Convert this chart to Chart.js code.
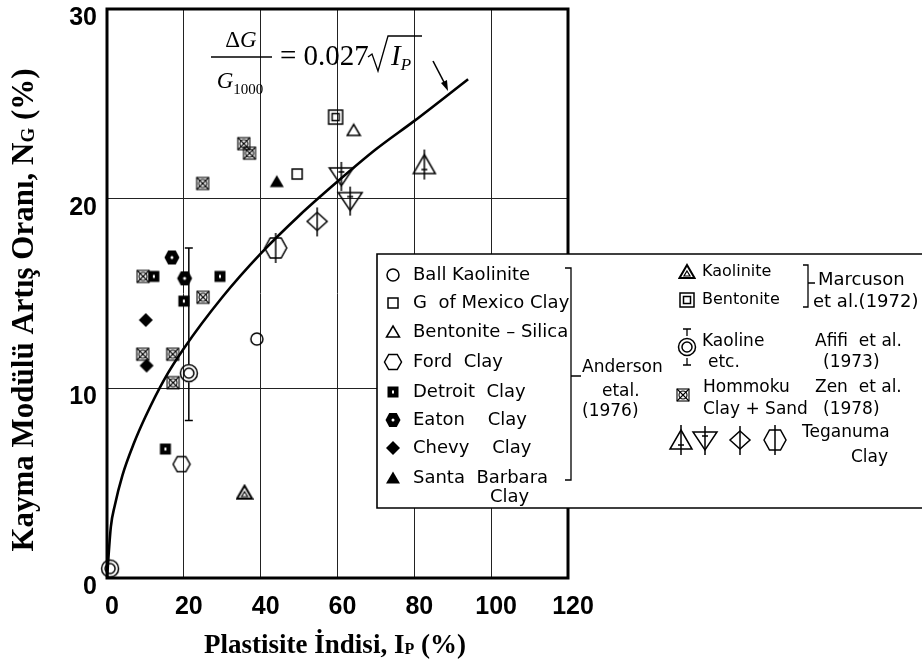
<!DOCTYPE html>
<html>
<head>
<meta charset="utf-8">
<script src="https://cdn.jsdelivr.net/npm/chart.js@4/dist/chart.umd.min.js"></script>
<style>
  html, body { margin: 0; padding: 0; background: #fff; }
</style>
</head>
<body>
<canvas id="myChart" width="922" height="666"></canvas>
<script>
// values (Ip %, NG %)
const ballKaolinite = [[39, 12.6]];
const gMexicoClay = [[49.5, 21.3]];
const bentoniteSilica = [[64.2, 23.6]];
const fordClay = [[19.4, 6.0]];
const detroitClay = [[12.2, 15.9], [15.2, 6.8], [20, 14.6], [29.4, 15.9]];
const eatonClay = [[16.9, 16.9], [20.2, 15.8]];
const chevyClay = [[10.1, 13.6], [10.3, 11.2]];
const santaBarbara = [[44.2, 20.9]];
const marcusonKaolinite = [[35.8, 4.5]];
const marcusonBentonite = [[59.5, 24.3]];
const afifiKaoline = [[21.3, 10.8], [0.8, 0.5]];
const afifiBarIp = [21.3];
const afifiBarLow = [8.3];
const afifiBarHigh = [17.4];
const hommoku = [[9.4, 15.9], [24.9, 20.8], [35.6, 22.9], [37.1, 22.4], [25, 14.8], [9.3, 11.8], [17.1, 11.8], [17.2, 10.3]];
const teganumaUp = [[82.6, 21.8]];
const teganumaDown = [[61, 21.2], [63.3, 19.9]];
const teganumaDiamond = [[54.7, 18.8]];
const teganumaHex = [[43.9, 17.4]];

// fitted curve dG/G1000 = 0.027 sqrt(Ip), read at a few points
const curveIp = [0, 1, 2, 4, 7, 10, 15, 20, 30, 40, 50, 60, 70, 80, 94];
const curveNg = [0, 2.7, 3.8, 5.4, 7.1, 8.5, 10.5, 12.1, 14.8, 17.1, 19.1, 20.9, 22.6, 24.1, 26.3];

const ipTicks = [0, 20, 40, 60, 80, 100, 120];
const ngTicks = [0, 10, 20, 30];

const INK = "#000";

// little canvases used as point styles
function sym(w, h, draw) {
  const c = document.createElement("canvas");
  c.width = w;
  c.height = h;
  const g = c.getContext("2d");
  g.strokeStyle = INK;
  g.fillStyle = INK;
  g.lineWidth = 1.5;
  draw(g, w / 2, h / 2);
  return c;
}
function poly(g, pts) {
  g.beginPath();
  pts.forEach((p, i) => (i ? g.lineTo(p[0], p[1]) : g.moveTo(p[0], p[1])));
  g.closePath();
}
function hexPts(cx, cy, rx, ry) {
  return [[cx - rx, cy], [cx - rx / 2, cy - ry], [cx + rx / 2, cy - ry], [cx + rx, cy], [cx + rx / 2, cy + ry], [cx - rx / 2, cy + ry]];
}

const symCircle = sym(16, 16, (g, x, y) => { g.beginPath(); g.arc(x, y, 6, 0, 2 * Math.PI); g.stroke(); });
const symSquare = sym(14, 14, (g, x, y) => g.strokeRect(x - 5, y - 5, 10, 10));
const symTri = sym(16, 16, (g, x, y) => { poly(g, [[x, y - 6], [x + 6.5, y + 5], [x - 6.5, y + 5]]); g.stroke(); });
const symHex = sym(20, 18, (g, x, y) => { poly(g, hexPts(x, y, 8.5, 7.5)); g.stroke(); });
const symDetroit = sym(14, 14, (g, x, y) => {
  g.fillRect(x - 5.5, y - 5.5, 11, 11);
  g.fillStyle = "#fff";
  g.fillRect(x - 1, y - 1.5, 2, 3);
});
const symEaton = sym(18, 18, (g, x, y) => {
  poly(g, hexPts(x, y, 7.5, 7));
  g.fill();
  g.fillStyle = "#fff";
  g.beginPath(); g.arc(x, y, 1.5, 0, 2 * Math.PI); g.fill();
});
const symChevy = sym(16, 16, (g, x, y) => { poly(g, [[x, y - 7], [x + 7, y], [x, y + 7], [x - 7, y]]); g.fill(); });
const symSanta = sym(16, 16, (g, x, y) => { poly(g, [[x, y - 6.5], [x + 7, y + 5.5], [x - 7, y + 5.5]]); g.fill(); });
const symMKaol = sym(18, 18, (g, x, y) => {
  g.lineWidth = 2;
  poly(g, [[x, y - 7], [x + 7.5, y + 6], [x - 7.5, y + 6]]); g.stroke();
  g.lineWidth = 1.2;
  poly(g, [[x, y - 1], [x + 3, y + 4], [x - 3, y + 4]]); g.stroke();
});
const symMBent = sym(18, 18, (g, x, y) => { g.strokeRect(x - 7, y - 7, 14, 14); g.strokeRect(x - 3.5, y - 3.5, 7, 7); });
const symAfifi = sym(22, 22, (g, x, y) => {
  g.beginPath(); g.arc(x, y, 8.5, 0, 2 * Math.PI); g.stroke();
  g.beginPath(); g.arc(x, y, 5, 0, 2 * Math.PI); g.stroke();
});
const symHommoku = sym(16, 16, (g, x, y) => {
  g.lineWidth = 1.1;
  g.strokeRect(x - 6, y - 6, 12, 12);
  g.beginPath(); g.moveTo(x - 6, y - 6); g.lineTo(x + 6, y + 6); g.moveTo(x + 6, y - 6); g.lineTo(x - 6, y + 6); g.stroke();
  g.beginPath(); g.arc(x, y, 4, 0, 2 * Math.PI); g.stroke();
});
const symTegUp = sym(26, 36, (g, x, y) => {
  poly(g, [[x, y - 10], [x + 11, y + 9], [x - 11, y + 9]]); g.stroke();
  g.beginPath(); g.moveTo(x, y - 15); g.lineTo(x, y + 15); g.moveTo(x - 3, y + 5); g.lineTo(x + 3, y + 5); g.stroke();
});
const symTegDown = sym(28, 36, (g, x, y) => {
  poly(g, [[x - 12, y - 8], [x + 12, y - 8], [x, y + 10]]); g.stroke();
  g.beginPath(); g.moveTo(x, y - 14); g.lineTo(x, y + 15); g.moveTo(x - 3, y - 4); g.lineTo(x + 3, y - 4); g.stroke();
});
const symTegDia = sym(24, 34, (g, x, y) => {
  poly(g, [[x, y - 9], [x + 10, y], [x, y + 9], [x - 10, y]]); g.stroke();
  g.beginPath(); g.moveTo(x, y - 14); g.lineTo(x, y + 15); g.stroke();
});
const symTegHex = sym(26, 36, (g, x, y) => {
  poly(g, hexPts(x, y, 11, 10)); g.stroke();
  g.beginPath(); g.moveTo(x, y - 15); g.lineTo(x, y + 15); g.stroke();
});

function pts(set, style, label) {
  return {
    type: "scatter",
    label: label,
    data: set,
    pointStyle: style,
    pointRadius: 8,
    clip: false,
  };
}

function rich(ctx, parts, x, y, align) {
  let w = 0;
  parts.forEach((p) => { ctx.font = p.f; w += ctx.measureText(p.t).width; });
  let cx = align === "center" ? x - w / 2 : x;
  parts.forEach((p) => {
    ctx.font = p.f;
    ctx.fillText(p.t, cx, y + (p.dy || 0));
    cx += ctx.measureText(p.t).width;
  });
}

const SERIF = '"Liberation Serif", "Times New Roman", serif';
const SANS = '"DejaVu Sans", sans-serif';

const decor = {
  id: "decor",
  afterDraw(chart) {
    const ctx = chart.ctx;
    const xs = chart.scales.x;
    const ys = chart.scales.y;
    const a = chart.chartArea;
    ctx.save();
    ctx.strokeStyle = INK;
    ctx.fillStyle = INK;

    // Afifi error bar
    afifiBarIp.forEach((ip, i) => {
      const px = xs.getPixelForValue(ip);
      const hi = ys.getPixelForValue(afifiBarHigh[i]);
      const lo = ys.getPixelForValue(afifiBarLow[i]);
      const mid = ys.getPixelForValue(afifiKaoline[i][1]);
      ctx.lineWidth = 1.5;
      ctx.beginPath();
      ctx.moveTo(px, hi); ctx.lineTo(px, mid - 9);
      ctx.moveTo(px, mid + 9); ctx.lineTo(px, lo);
      ctx.moveTo(px - 4, hi); ctx.lineTo(px + 4, hi);
      ctx.moveTo(px - 4, lo); ctx.lineTo(px + 4, lo);
      ctx.stroke();
    });

    // frame
    ctx.lineWidth = 3;
    ctx.strokeRect(a.left, a.top, a.right - a.left, a.bottom - a.top);

    // equation
    ctx.textBaseline = "alphabetic";
    ctx.textAlign = "left";
    rich(ctx, [{ t: "\u0394", f: "23px " + SERIF }, { t: "G", f: "italic 23px " + SERIF }], 241, 47, "center");
    ctx.lineWidth = 1.3;
    ctx.beginPath(); ctx.moveTo(211, 57); ctx.lineTo(272, 57); ctx.stroke();
    rich(ctx, [{ t: "G", f: "italic 23px " + SERIF }, { t: "1000", f: "15px " + SERIF, dy: 6 }], 240, 88, "center");
    ctx.font = "29px " + SERIF;
    ctx.fillText("= 0.027", 280, 65);
    ctx.beginPath();
    ctx.moveTo(368, 57); ctx.lineTo(372, 54); ctx.lineTo(378, 71); ctx.lineTo(388, 36); ctx.lineTo(422, 36);
    ctx.stroke();
    rich(ctx, [{ t: "I", f: "italic 29px " + SERIF }, { t: "P", f: "italic 17px " + SERIF, dy: 5 }], 391, 65, "left");

    // leader from the equation to the curve
    ctx.lineWidth = 1.6;
    ctx.beginPath(); ctx.moveTo(433, 61); ctx.lineTo(446, 86); ctx.stroke();
    ctx.beginPath(); ctx.moveTo(448, 91); ctx.lineTo(441, 83); ctx.lineTo(447, 80); ctx.closePath(); ctx.fill();

    // legend panel
    ctx.fillStyle = "#fff";
    ctx.fillRect(377, 254, 560, 254);
    ctx.fillStyle = INK;
    ctx.lineWidth = 1.6;
    ctx.beginPath();
    ctx.moveTo(922, 254); ctx.lineTo(377, 254); ctx.lineTo(377, 508); ctx.lineTo(922, 508);
    ctx.stroke();

    ctx.font = "18px " + SANS;
    ctx.textBaseline = "middle";
    const left = [
      [symCircle, "Ball Kaolinite", 275],
      [symSquare, "G  of Mexico Clay", 303],
      [symTri, "Bentonite \u2013 Silica", 332],
      [symHex, "Ford  Clay", 362],
      [symDetroit, "Detroit  Clay", 392],
      [symEaton, "Eaton    Clay", 420],
      [symChevy, "Chevy    Clay", 448],
      [symSanta, "Santa  Barbara", 478],
    ];
    left.forEach(([s, t, y]) => {
      ctx.drawImage(s, 393 - s.width / 2, y - s.height / 2);
      ctx.fillText(t, 413, y);
    });
    ctx.fillText("Clay", 490, 497);

    ctx.lineWidth = 1.3;
    ctx.beginPath();
    ctx.moveTo(565, 268); ctx.lineTo(571, 268); ctx.lineTo(571, 480); ctx.lineTo(565, 480);
    ctx.moveTo(571, 376); ctx.lineTo(581, 376);
    ctx.stroke();
    ctx.font = "17px " + SANS;
    ctx.fillText("Anderson", 582, 368);
    ctx.fillText("etal.", 602, 392);
    ctx.fillText("(1976)", 582, 412);

    ctx.font = "16px " + SANS;
    ctx.drawImage(symMKaol, 687 - 9, 272 - 9);
    ctx.fillText("Kaolinite", 702, 272);
    ctx.drawImage(symMBent, 687 - 9, 300 - 9);
    ctx.fillText("Bentonite", 702, 300);
    ctx.beginPath();
    ctx.moveTo(803, 265); ctx.lineTo(808, 265); ctx.lineTo(808, 307); ctx.lineTo(803, 307);
    ctx.moveTo(808, 283); ctx.lineTo(815, 283);
    ctx.stroke();
    ctx.font = "18px " + SANS;
    ctx.fillText("Marcuson", 818, 280);
    ctx.fillText("et al.(1972)", 813, 302);

    ctx.font = "17px " + SANS;
    ctx.drawImage(symAfifi, 687 - 11, 347 - 11);
    ctx.beginPath();
    ctx.moveTo(687, 329); ctx.lineTo(687, 336); ctx.moveTo(687, 358); ctx.lineTo(687, 365);
    ctx.moveTo(683, 329); ctx.lineTo(691, 329); ctx.moveTo(683, 365); ctx.lineTo(691, 365);
    ctx.stroke();
    ctx.fillText("Kaoline", 702, 342);
    ctx.fillText("etc.", 708, 363);
    ctx.fillText("Afifi  et al.", 815, 342);
    ctx.fillText("(1973)", 823, 363);

    ctx.drawImage(symHommoku, 683 - 8, 395 - 8);
    ctx.fillText("Hommoku", 703, 388);
    ctx.fillText("Clay + Sand", 703, 410);
    ctx.fillText("Zen  et al.", 815, 388);
    ctx.fillText("(1978)", 823, 410);

    [[symTegUp, 681], [symTegDown, 705], [symTegDia, 740], [symTegHex, 775]].forEach(([s, x]) => {
      ctx.drawImage(s, x - s.width / 2, 440 - s.height / 2);
    });
    ctx.fillText("Teganuma", 802, 433);
    ctx.textAlign = "right";
    ctx.fillText("Clay", 888, 458);
    ctx.textAlign = "left";

    // axis titles with subscripts
    ctx.textBaseline = "alphabetic";
    rich(ctx, [
      { t: "Plastisite \u0130ndisi, I", f: "bold 27px " + SERIF },
      { t: "P", f: "bold 16px " + SERIF, dy: 1 },
      { t: " (%)", f: "bold 27px " + SERIF },
    ], 335, 653, "center");
    ctx.translate(33, 310);
    ctx.rotate(-Math.PI / 2);
    rich(ctx, [
      { t: "Kayma Mod\u00fcl\u00fc Art\u0131\u015f Oran\u0131, N", f: "bold 31px " + SERIF },
      { t: "G", f: "bold 19px " + SERIF, dy: 1 },
      { t: " (%)", f: "bold 31px " + SERIF },
    ], 0, 0, "center");
    ctx.restore();
  },
};

const ctx = document.getElementById("myChart").getContext("2d");

new Chart(ctx, {
  type: "scatter",
  data: {
    datasets: [
      {
        type: "line",
        label: "fit",
        data: curveIp.map((ip, i) => ({ x: ip, y: curveNg[i] })),
        borderColor: INK,
        borderWidth: 2.6,
        pointRadius: 0,
        cubicInterpolationMode: "monotone",
        fill: false,
      },
      pts(ballKaolinite, symCircle, "Ball Kaolinite"),
      pts(gMexicoClay, symSquare, "G of Mexico Clay"),
      pts(bentoniteSilica, symTri, "Bentonite - Silica"),
      pts(fordClay, symHex, "Ford Clay"),
      pts(detroitClay, symDetroit, "Detroit Clay"),
      pts(eatonClay, symEaton, "Eaton Clay"),
      pts(chevyClay, symChevy, "Chevy Clay"),
      pts(santaBarbara, symSanta, "Santa Barbara Clay"),
      pts(marcusonKaolinite, symMKaol, "Kaolinite"),
      pts(marcusonBentonite, symMBent, "Bentonite"),
      pts(afifiKaoline, symAfifi, "Kaoline etc."),
      pts(hommoku, symHommoku, "Hommoku Clay + Sand"),
      pts(teganumaUp, symTegUp, "Teganuma Clay"),
      pts(teganumaDown, symTegDown, "Teganuma Clay"),
      pts(teganumaDiamond, symTegDia, "Teganuma Clay"),
      pts(teganumaHex, symTegHex, "Teganuma Clay"),
    ],
  },
  options: {
    responsive: false,
    animation: false,
    layout: { padding: { top: 8, right: 354, left: 0, bottom: 0 } },
    plugins: {
      legend: { display: false },
      tooltip: { enabled: false },
    },
    scales: {
      x: {
        type: "linear",
        min: 0,
        max: 120,
        afterBuildTicks: (s) => { s.ticks = ipTicks.map((v) => ({ value: v })); },
        afterFit: (s) => { s.height = 88; s.paddingLeft = 0; s.paddingRight = 0; },
        ticks: {
          color: "#000",
          font: { family: '"Liberation Sans", Arial, sans-serif', size: 25, weight: "bold" },
          padding: 14,
          labelOffset: 5,
          maxRotation: 0,
        },
        grid: { color: "#222", lineWidth: 1, drawTicks: false },
        border: { display: false },
      },
      y: {
        type: "linear",
        min: 0,
        max: 30,
        afterBuildTicks: (s) => { s.ticks = ngTicks.map((v) => ({ value: v })); },
        afterFit: (s) => { s.width = 107; s.paddingTop = 0; s.paddingBottom = 0; },
        ticks: {
          color: "#000",
          font: { family: '"Liberation Sans", Arial, sans-serif', size: 25, weight: "bold" },
          padding: 10,
          labelOffset: 9,
        },
        grid: { color: "#222", lineWidth: 1, drawTicks: false },
        border: { display: false },
      },
    },
  },
  plugins: [decor],
});
</script>
</body>
</html>
